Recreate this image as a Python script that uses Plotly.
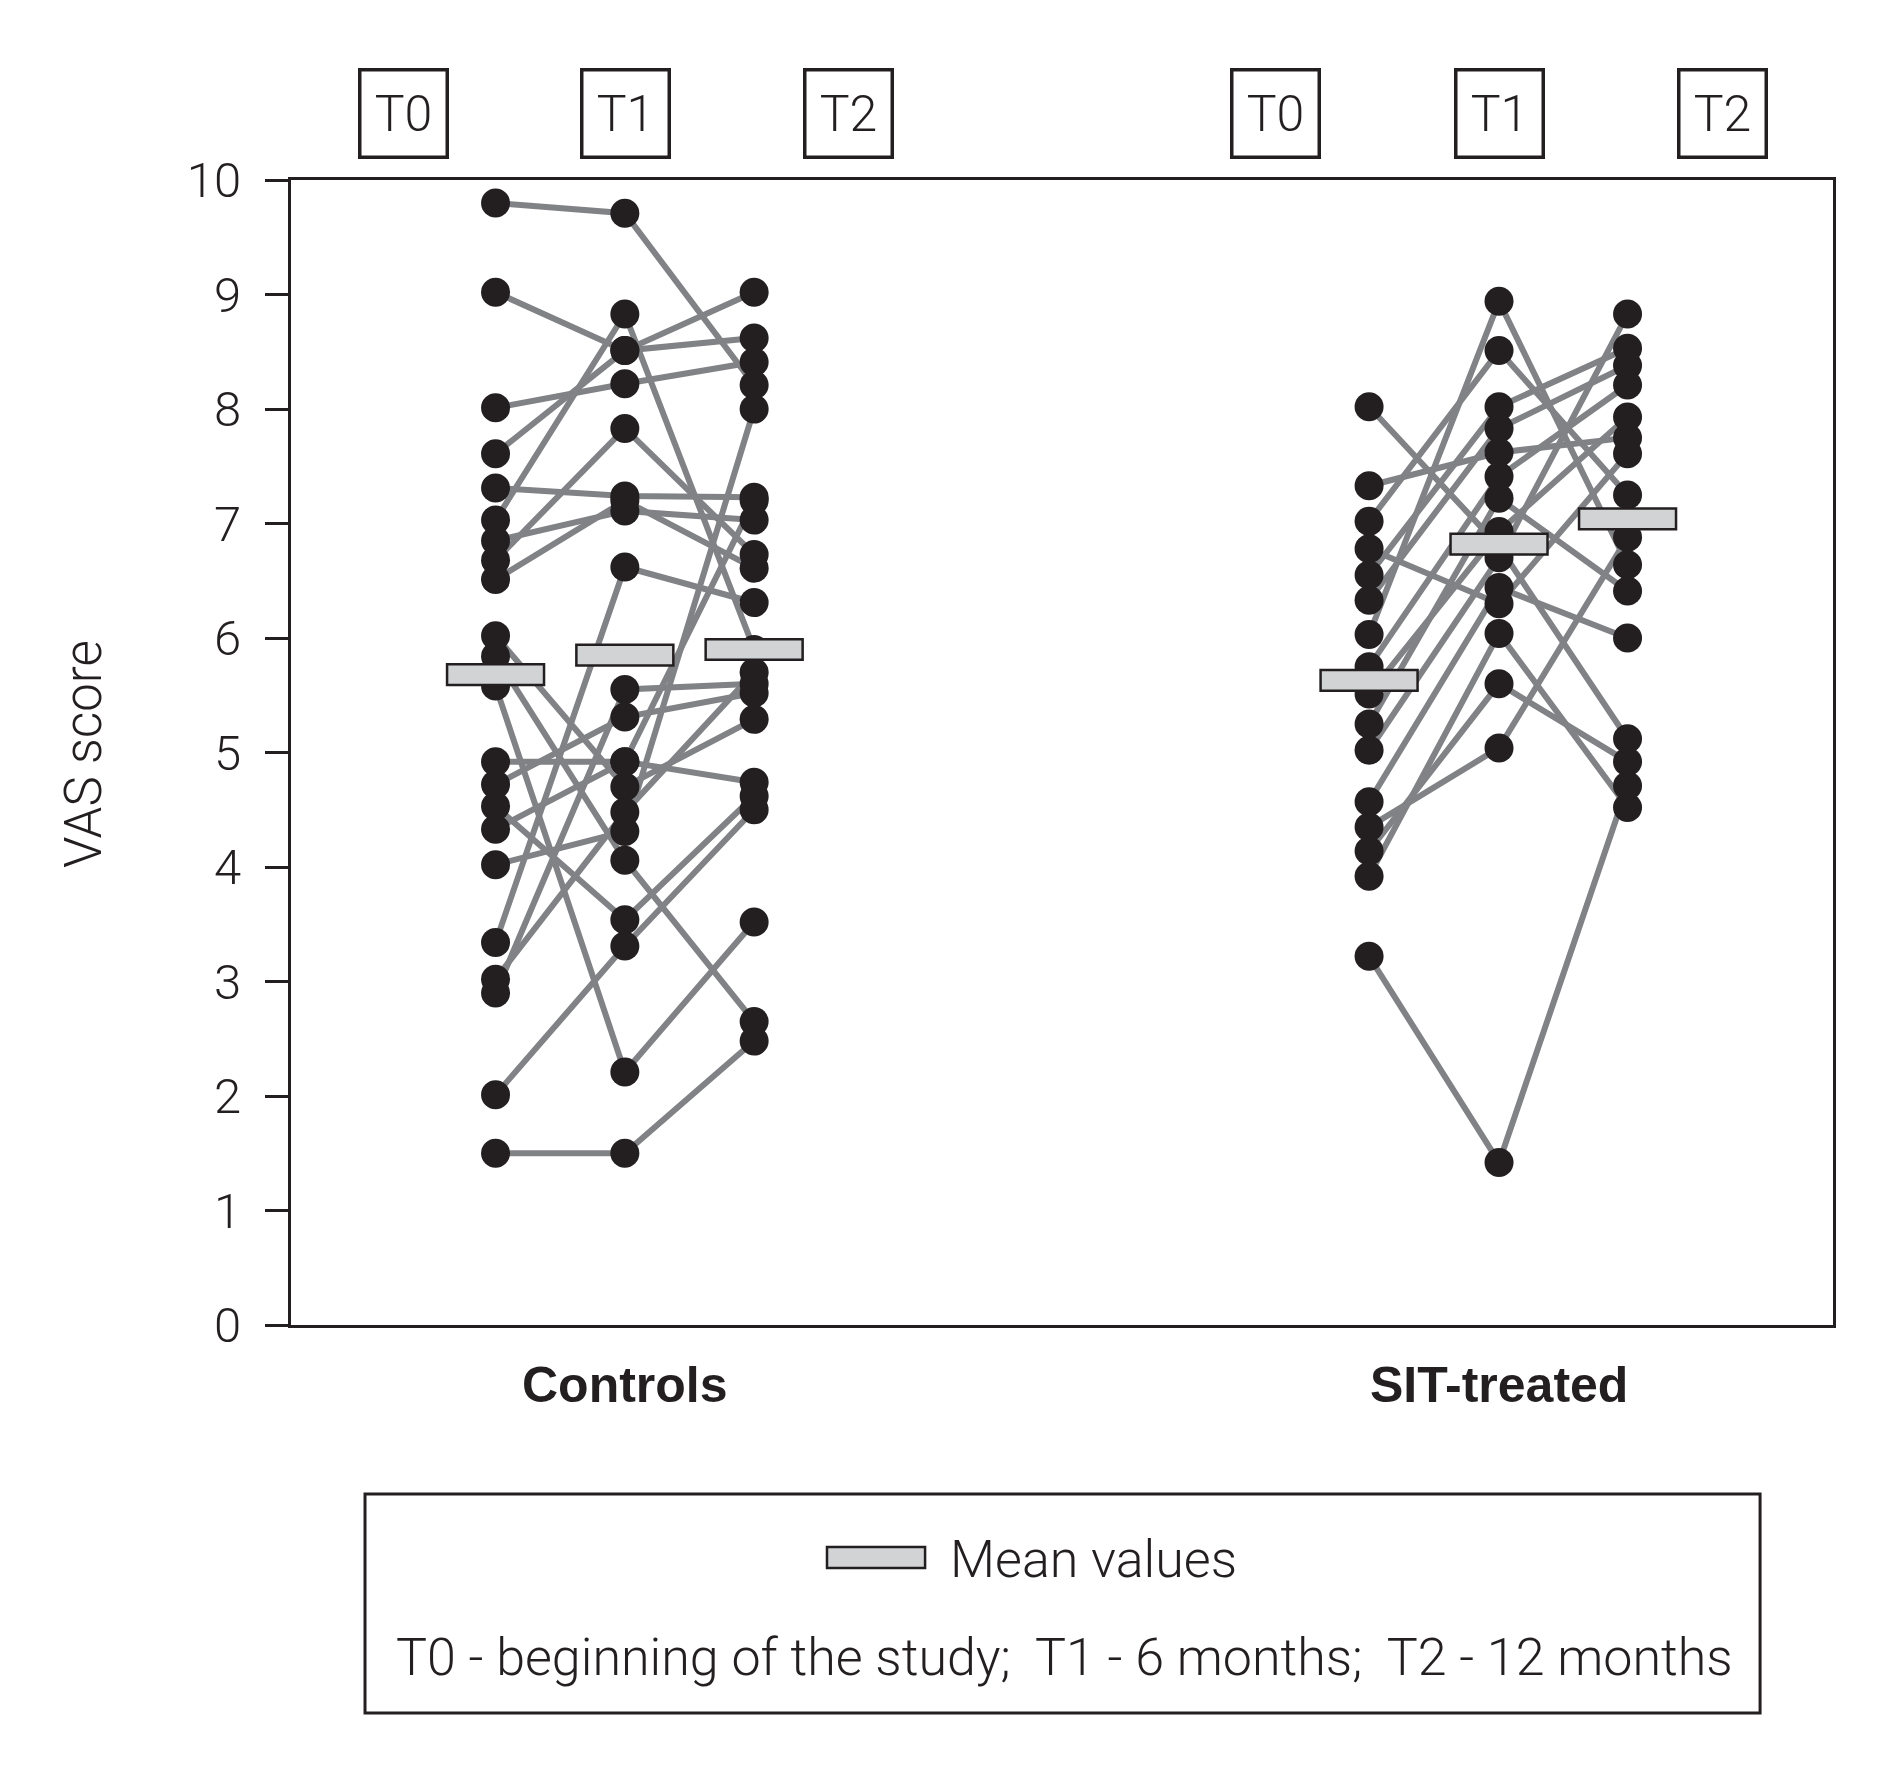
import plotly.graph_objects as go

# VAS score per subject at T0 / T1 / T2
TIMES = ["T0", "T1", "T2"]
GROUPS = ["Controls", "SIT-treated"]

ctrl_t0 = [9.80, 9.02, 8.01, 7.61, 7.31, 7.03, 6.85, 6.68, 6.51, 3.34, 6.02,
           5.84, 5.58, 1.50, 2.01, 3.02, 2.90, 4.92, 4.72, 4.53, 4.33, 4.02]
ctrl_t1 = [9.71, 8.51, 8.22, 8.51, 7.24, 8.83, 7.11, 7.83, 7.20, 6.62, 4.70,
           4.06, 2.21, 1.50, 3.31, 4.48, 5.55, 4.92, 5.31, 3.54, 4.92, 4.31]
ctrl_t2 = [8.21, 8.62, 8.41, 9.02, 7.23, 5.90, 7.03, 6.73, 6.61, 6.31, 5.29,
           2.65, 3.52, 2.48, 4.50, 5.70, 5.60, 4.74, 5.52, 4.62, 7.20, 8.00]

sit_t0 = [8.02, 7.33, 7.02, 6.78, 6.55, 6.33, 6.03, 5.75, 5.51, 5.25, 5.02,
          4.57, 4.35, 4.14, 3.92, 3.22]
sit_t1 = [6.80, 7.62, 8.51, 6.30, 8.02, 7.83, 8.94, 7.41, 6.93, 7.22, 6.70,
          6.44, 5.04, 5.60, 6.04, 1.42]
sit_t2 = [5.12, 7.75, 7.25, 7.61, 8.53, 8.38, 6.64, 8.21, 7.93, 6.41, 8.83,
          6.00, 6.88, 4.92, 4.52, 4.71]

mean_ctrl = [5.68, 5.85, 5.90]
mean_sit = [5.63, 6.82, 7.04]

Y_TICKS = list(range(0, 11))
LEGEND_MEAN = "Mean values"
LEGEND_NOTE = "T0 - beginning of the study;  T1 - 6 months;  T2 - 12 months"

# column positions in axis units (one unit = one time step)
COLS = {"Controls": [1, 2, 3], "SIT-treated": [7.756, 8.761, 9.755]}
HEAD = {"Controls": [0.285, 2.006, 3.726], "SIT-treated": [7.036, 8.761, 10.49]}

DOT = "#231f20"
LINE = "#808285"
BOXFILL = "#d1d3d4"
FONT = "Roboto, 'Liberation Sans', sans-serif"

series = {
    "Controls": (ctrl_t0, ctrl_t1, ctrl_t2, mean_ctrl),
    "SIT-treated": (sit_t0, sit_t1, sit_t2, mean_sit),
}

fig = go.Figure()

# subject lines first so the dots sit on top
for g in GROUPS:
    t0, t1, t2, _ = series[g]
    xs, ys = [], []
    for a, b, c in zip(t0, t1, t2):
        xs += COLS[g] + [None]
        ys += [a, b, c, None]
    fig.add_trace(go.Scatter(x=xs, y=ys, mode="lines",
                             line=dict(color=LINE, width=6), hoverinfo="skip"))

for g in GROUPS:
    t0, t1, t2, _ = series[g]
    xs, ys = [], []
    for col, vals in zip(COLS[g], (t0, t1, t2)):
        xs += [col] * len(vals)
        ys += vals
    fig.add_trace(go.Scatter(x=xs, y=ys, mode="markers", name=g,
                             marker=dict(color=DOT, size=29)))

shapes = []
annotations = []
for g in GROUPS:
    means = series[g][3]
    for col, m in zip(COLS[g], means):
        shapes.append(dict(type="rect", xref="x", yref="y", layer="above",
                           x0=col - 0.375, x1=col + 0.375, y0=m - 0.09, y1=m + 0.09,
                           fillcolor=BOXFILL, line=dict(color=DOT, width=2.5)))
    for hx, t in zip(HEAD[g], TIMES):
        annotations.append(dict(x=hx, y=1.0585, xref="x", yref="paper", text=t,
                                xanchor="center", yanchor="middle",
                                showarrow=False, width=84, height=84, borderpad=0,
                                bordercolor=DOT, borderwidth=3.5,
                                font=dict(family=FONT, size=50, color=DOT, weight=300)))
    annotations.append(dict(x=COLS[g][1], y=-0.0524, xref="x", yref="paper",
                            xanchor="center", yanchor="middle",
                            text="<b>%s</b>" % g, showarrow=False,
                            font=dict(family="'Liberation Sans', Arial, sans-serif",
                                      size=50, color=DOT)))

# y title
annotations.append(dict(x=-0.1342, y=0.4987, xref="paper", yref="paper",
                        xanchor="center", yanchor="middle",
                        text="VAS score", textangle=-90, showarrow=False,
                        font=dict(family=FONT, size=51, color=DOT, weight=300)))

# legend box
shapes.append(dict(type="rect", xref="paper", yref="paper", x0=0.048, x1=0.9527,
                   y0=-0.3389, y1=-0.1476, line=dict(color=DOT, width=3),
                   fillcolor="white"))
shapes.append(dict(type="rect", xref="paper", yref="paper", x0=0.3476, x1=0.4112,
                   y0=-0.2122, y1=-0.1939, line=dict(color=DOT, width=2.5),
                   fillcolor=BOXFILL))
annotations.append(dict(x=0.426, y=-0.2044, xref="paper", yref="paper",
                        xanchor="left", yanchor="middle",
                        text=LEGEND_MEAN, showarrow=False,
                        font=dict(family=FONT, size=52, color=DOT, weight=300)))
annotations.append(dict(x=0.5013, y=-0.29, xref="paper", yref="paper",
                        xanchor="center", yanchor="middle",
                        text=LEGEND_NOTE, showarrow=False,
                        font=dict(family=FONT, size=52, color=DOT, weight=300)))

fig.update_layout(
    width=1890, height=1770,
    margin=dict(l=283, r=65, t=172, b=453),
    paper_bgcolor="white", plot_bgcolor="white",
    showlegend=False, hovermode=False,
    shapes=shapes, annotations=annotations,
    font=dict(family=FONT, color=DOT),
)
fig.update_xaxes(range=[-0.582, 11.344], showgrid=False, zeroline=False,
                 showticklabels=False, ticks="", showline=True, mirror=True,
                 linecolor=DOT, linewidth=3)
fig.update_yaxes(range=[0, 10], tickvals=Y_TICKS, showgrid=False, zeroline=False,
                 showline=True, mirror=True, linecolor=DOT, linewidth=3,
                 ticks="outside", ticklen=23, tickwidth=3, tickcolor=DOT,
                 ticklabelstandoff=14,
                 tickfont=dict(family=FONT, size=49, color=DOT, weight=300))

fig.write_html("out.html", config={"displayModeBar": False})
